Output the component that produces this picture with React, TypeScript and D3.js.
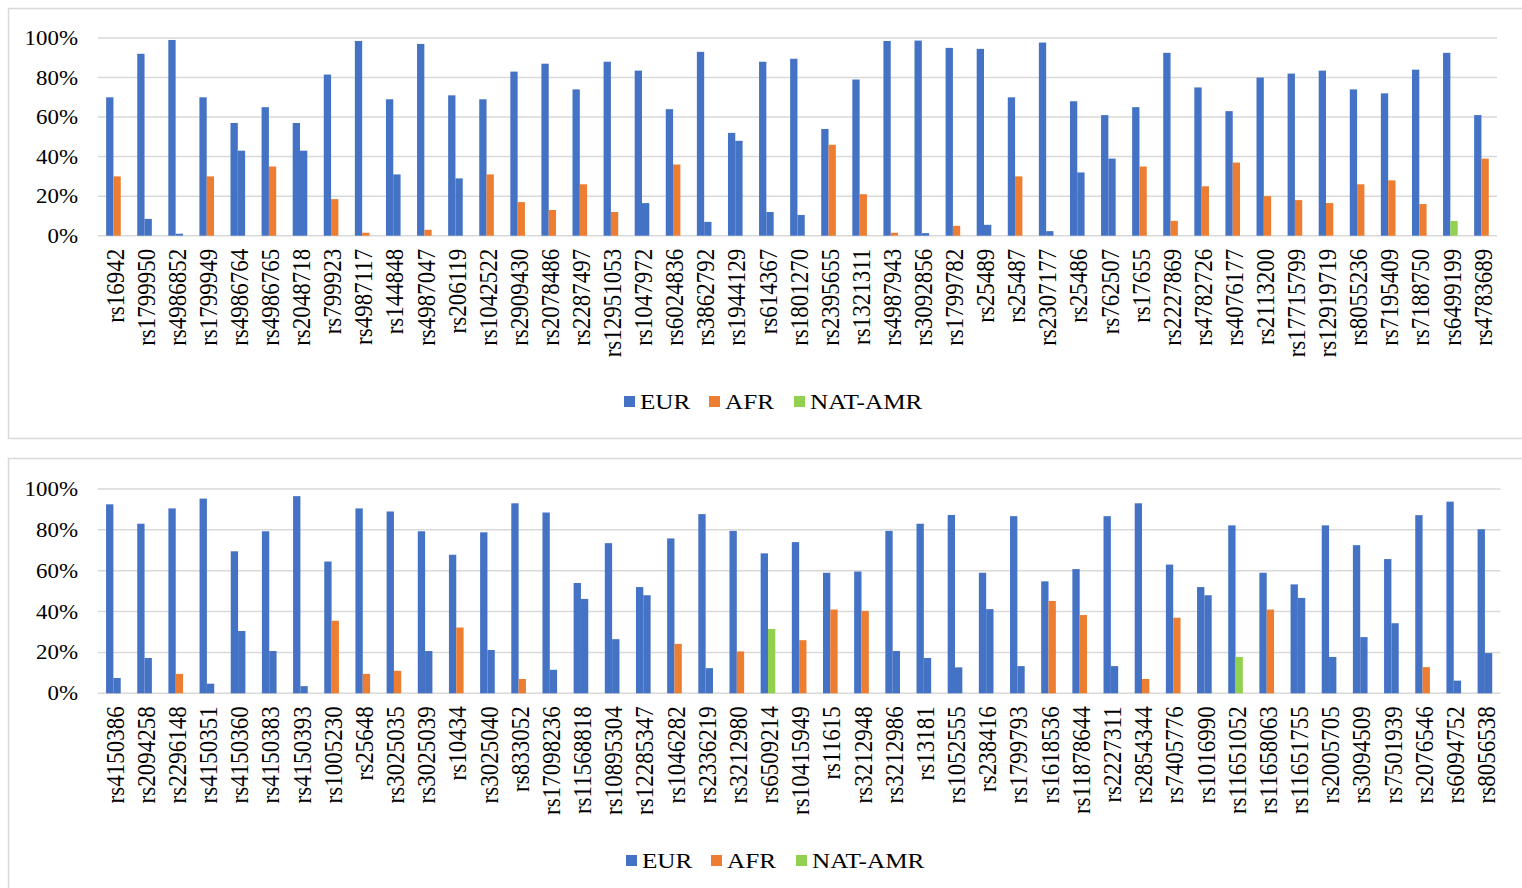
import { useEffect, useRef } from 'react';
import * as d3 from 'd3';

// SNP allele frequencies, first bar is always EUR, second bar coloured by its ancestry
const topSnps = ['rs16942','rs1799950','rs4986852','rs1799949','rs4986764','rs4986765','rs2048718','rs799923','rs4987117','rs144848','rs4987047','rs206119','rs1042522','rs2909430','rs2078486','rs2287497','rs12951053','rs1047972','rs6024836','rs3862792','rs1944129','rs614367','rs1801270','rs2395655','rs1321311','rs4987943','rs3092856','rs1799782','rs25489','rs25487','rs2307177','rs25486','rs762507','rs17655','rs2227869','rs4782726','rs4076177','rs2113200','rs17715799','rs12919719','rs8055236','rs7195409','rs7188750','rs6499199','rs4783689'];
const topEur = [70,92,99,70,57,65,57,81.5,98.5,69,97,71,69,83,87,74,88,83.5,64,93,52,88,89.5,54,79,98.5,98.7,95,94.5,70,97.7,68,61,65,92.5,75,63,80,82,83.5,74,72,84,92.5,61];
const topOther = [30,8.5,1,30,43,35,43,18.5,1.5,31,3,29,31,17,13,26,12,16.5,36,7,48,12,10.5,46,21,1.5,1.3,5,5.5,30,2.3,32,39,35,7.5,25,37,20,18,16.5,26,28,16,7.5,39];
const topOtherGroup = ['AFR','EUR','EUR','AFR','EUR','AFR','EUR','AFR','AFR','EUR','AFR','EUR','AFR','AFR','AFR','AFR','AFR','EUR','AFR','EUR','EUR','EUR','EUR','AFR','AFR','AFR','EUR','AFR','EUR','AFR','EUR','EUR','EUR','AFR','AFR','AFR','AFR','AFR','AFR','AFR','AFR','AFR','AFR','NAT-AMR','AFR'];

const bottomSnps = ['rs4150386','rs2094258','rs2296148','rs4150351','rs4150360','rs4150383','rs4150393','rs1005230','rs25648','rs3025035','rs3025039','rs10434','rs3025040','rs833052','rs17098236','rs11568818','rs10895304','rs12285347','rs1046282','rs2336219','rs3212980','rs6509214','rs10415949','rs11615','rs3212948','rs3212986','rs13181','rs1052555','rs238416','rs1799793','rs1618536','rs11878644','rs2227311','rs2854344','rs7405776','rs1016990','rs11651052','rs11658063','rs11651755','rs2005705','rs3094509','rs7501939','rs2076546','rs6094752','rs8056538'];
const bottomEur = [92.5,83,90.5,95.3,69.5,79.3,96.5,64.5,90.5,89,79.3,67.8,78.8,93,88.5,54,73.5,52,75.8,87.7,79.5,68.5,74,59,59.6,79.5,83,87.3,59,86.7,54.8,60.8,86.7,93,63,52,82.2,59,53.3,82.2,72.5,65.7,87.2,93.8,80.3];
const bottomOther = [7.5,17.3,9.5,4.7,30.5,20.7,3.5,35.5,9.5,11,20.7,32.2,21.2,7,11.5,46.2,26.5,48,24.2,12.3,20.5,31.5,26,41,40.3,20.7,17.3,12.7,41.2,13.3,45.2,38.3,13.3,7,37,48,17.8,41,46.7,17.8,27.5,34.3,12.8,6.2,19.7];
const bottomOtherGroup = ['EUR','EUR','AFR','EUR','EUR','EUR','EUR','AFR','AFR','AFR','EUR','AFR','EUR','AFR','EUR','EUR','EUR','EUR','AFR','EUR','AFR','NAT-AMR','AFR','AFR','AFR','EUR','EUR','EUR','EUR','EUR','AFR','AFR','EUR','AFR','AFR','EUR','NAT-AMR','AFR','EUR','EUR','EUR','EUR','AFR','EUR','EUR'];

const groups = ['EUR', 'AFR', 'NAT-AMR'];
const colors = ['#4472C4', '#ED7D31', '#92D050'];
const yTicks = [0, 20, 40, 60, 80, 100];

const FONT = '"Liberation Serif", "Times New Roman", serif';
const SX = 1.145; // the source picture is stretched sideways

const App = () => {
    const svgRef = useRef(null);

    useEffect(() => {
        const svg = d3.select(svgRef.current);
        svg.selectAll('*').remove();
        const color = d3.scaleOrdinal().domain(groups).range(colors);

        const panels = [
            {snps: topSnps, eur: topEur, other: topOther, grp: topOtherGroup,
             box: [8.5, 8.5, 1530, 430], x0: 97.9, x1: 1497, y0: 235.7, y1: 38, legY: 401, legX: 624},
            {snps: bottomSnps, eur: bottomEur, other: bottomOther, grp: bottomOtherGroup,
             box: [8.5, 458.5, 1530, 440], x0: 97.8, x1: 1500.5, y0: 693.3, y1: 489, legY: 860, legX: 626},
        ];

        panels.forEach(p => {
            svg.append('rect')
                .attr('x', p.box[0]).attr('y', p.box[1])
                .attr('width', p.box[2]).attr('height', p.box[3])
                .attr('fill', '#fff').attr('stroke', '#d9d9d9').attr('stroke-width', 1.5);

            const x = d3.scaleBand().domain(p.snps).range([p.x0, p.x1]).padding(0);
            const y = d3.scaleLinear().domain([0, 100]).range([p.y0, p.y1]);
            const bw = x.bandwidth() * 0.235;
            const g = svg.append('g');

            // gridlines
            g.selectAll('line.grid')
                .data(yTicks)
                .enter().append('line')
                .attr('x1', p.x0).attr('x2', p.x1)
                .attr('y1', d => y(d)).attr('y2', d => y(d))
                .attr('stroke', '#d9d9d9').attr('stroke-width', 1.5);

            // y tick labels
            g.selectAll('text.ytick')
                .data(yTicks)
                .enter().append('text')
                .attr('transform', d => `translate(78, ${y(d)}) scale(${SX},1)`)
                .attr('dy', '0.35em')
                .attr('text-anchor', 'end')
                .style('font-family', FONT)
                .style('font-size', '20px')
                .attr('fill', '#000')
                .text(d => d + '%');

            // EUR bars
            g.selectAll('rect.eur')
                .data(p.snps)
                .enter().append('rect')
                .attr('x', d => x(d) + x.bandwidth() / 2 - bw)
                .attr('y', (d, i) => y(p.eur[i]))
                .attr('width', bw)
                .attr('height', (d, i) => y(0) - y(p.eur[i]))
                .attr('fill', color('EUR'));

            // second allele bars
            g.selectAll('rect.other')
                .data(p.snps)
                .enter().append('rect')
                .attr('x', d => x(d) + x.bandwidth() / 2)
                .attr('y', (d, i) => y(p.other[i]))
                .attr('width', bw)
                .attr('height', (d, i) => y(0) - y(p.other[i]))
                .attr('fill', (d, i) => color(p.grp[i]));

            // category labels
            g.selectAll('text.cat')
                .data(p.snps)
                .enter().append('text')
                .attr('transform', d => `translate(${x(d) + x.bandwidth() / 2}, ${p.y0 + 13}) scale(1.05,1) rotate(-90)`)
                .attr('dy', '0.42em')
                .attr('text-anchor', 'end')
                .style('font-family', FONT)
                .style('font-size', '23px')
                .attr('fill', '#000')
                .text(d => d);

            // legend
            const offs = [0, 85, 170];
            groups.forEach((name, i) => {
                g.append('rect')
                    .attr('x', p.legX + offs[i]).attr('y', p.legY - 5)
                    .attr('width', 11).attr('height', 11)
                    .attr('fill', color(name));
                g.append('text')
                    .attr('transform', `translate(${p.legX + offs[i] + 16}, ${p.legY}) scale(${SX},1)`)
                    .attr('dy', '0.35em')
                    .style('font-family', FONT)
                    .style('font-size', '22px')
                    .attr('fill', '#000')
                    .text(name);
            });
        });
    }, []);

    return (
        <svg ref={svgRef} width={1522} height={888}
             style={{position: 'absolute', left: 0, top: 0, background: '#fff'}}></svg>
    );
};

export default App;
